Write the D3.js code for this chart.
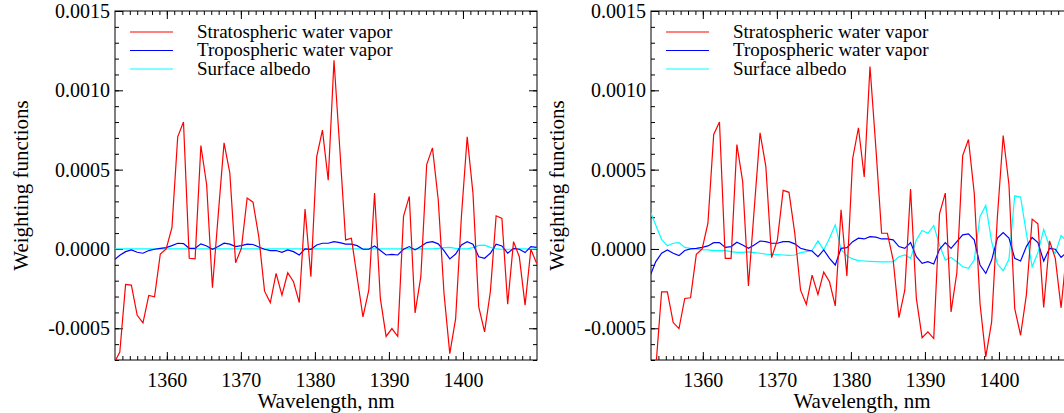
<!DOCTYPE html>
<html>
<head>
<meta charset="utf-8">
<script src="https://cdn.jsdelivr.net/npm/d3@7"></script>
<style>
  body { margin: 0; background: #fff; }
  svg { display: block; }
</style>
</head>
<body>
<div id="vis"></div>
<script>
// wavelength grid, nm
var wavelength = [1352.87, 1353.65, 1354.43, 1355.21, 1356.00, 1356.78, 1357.56, 1358.34, 1359.12, 1359.91,
  1360.69, 1361.47, 1362.25, 1363.03, 1363.82, 1364.60, 1365.38, 1366.16, 1366.94, 1367.73,
  1368.51, 1369.29, 1370.07, 1370.85, 1371.64, 1372.42, 1373.20, 1373.98, 1374.76, 1375.55,
  1376.33, 1377.11, 1377.89, 1378.67, 1379.46, 1380.24, 1381.02, 1381.80, 1382.58, 1383.37,
  1384.15, 1384.93, 1385.71, 1386.49, 1387.28, 1388.06, 1388.84, 1389.62, 1390.40, 1391.19,
  1391.97, 1392.75, 1393.53, 1394.31, 1395.10, 1395.88, 1396.66, 1397.44, 1398.22, 1399.01,
  1399.79, 1400.57, 1401.35, 1402.13, 1402.92, 1403.70, 1404.48, 1405.26, 1406.04, 1406.83,
  1407.61, 1408.39, 1409.17, 1409.95];

// left panel
var stratLeft = [-0.00072, -0.00065, -0.000224, -0.000228, -0.000418, -0.000466, -0.000293, -0.000302, -0.000032, 0.0,
  0.000135, 0.000707, 0.0008, -0.000059, -0.000063, 0.000652, 0.000405, -0.000245, 0.000213, 0.000669,
  0.000479, -0.000087, 0.000004, 0.000321, 0.000295, 0.000078, -0.000266, -0.000338, -0.000154, -0.000291,
  -0.00015, -0.000207, -0.000338, 0.000251, -0.000175, 0.00058, 0.000749, 0.000433, 0.00119, 0.000627,
  0.000057, 0.000068, -0.00018, -0.000428, -0.00026, 0.000352, -0.000312, -0.000551, -0.000502, -0.000551,
  0.000205, 0.000331, -0.000403, -0.000175, 0.000532, 0.000637, 0.00031, -0.000281, -0.00066, -0.000439,
  0.000205, 0.000707, 0.000352, -0.000365, -0.000523, -0.00027, 0.000209, 0.000192, -0.000348, 0.000046,
  -0.000049, -0.000354, -0.000002, -0.000091];
var tropLeft = [-0.00007, -0.00004, -0.000017, -0.000006, -0.000021, -0.000027, -0.00001, -0.000002, 0.000004, 0.000008,
  0.000021, 0.000036, 0.000034, 0.000004, 0.000004, 0.000032, 0.000019, -0.000002, 0.000015, 0.000036,
  0.00003, 0.000015, 0.000021, 0.00003, 0.000028, 0.000012, -0.000002, -0.00001, -0.00001, -0.000021,
  -0.000006, -0.000017, -0.000038, 0.0, -0.000002, 0.000025, 0.000036, 0.000036, 0.000046, 0.00004,
  0.00003, 0.00003, 0.000021, -0.000002, -0.000002, 0.000019, -0.00001, -0.000038, -0.000034, -0.000038,
  -0.000002, 0.000015, -0.000006, 0.000015, 0.00004, 0.000046, 0.000032, -0.00001, -0.000063, -0.000032,
  0.000025, 0.000046, 0.00003, -0.000049, -0.000059, -0.000027, 0.00003, 0.000019, -0.000027, 0.000004,
  -0.000002, -0.000023, 0.000015, 0.00001];
var albedoLeft = [0, 0, 0, 0, 0, 0, 0, 0, 0, 0,
  0, 0, 0, 0, 0, 0, 0, 0, 0, 0,
  0, 0, 0, 0, 0, 0, 0, 0, 0, 0,
  0, 0, 0, 0, 0, 0, 0, 0, 0, 0,
  0, 0, 0, 0, 0, 0, 0, 0, 0, 0,
  0, 0, 0, 0, 0, 0, 0.000004, 0.000008, 0.00001, 0.000004,
  0, 0, 0.000008, 0.000022, 0.000024, 0.00001, 0, -0.000002, -0.000002, -0.000002,
  0, 0, -0.000002, 0];

// right panel
var stratRight = [-0.0009, -0.00075, -0.00027, -0.00027, -0.000464, -0.000502, -0.000312, -0.000308, -0.000034, 0.0,
  0.000162, 0.000722, 0.0008, -0.000059, -0.000059, 0.000658, 0.000426, -0.000234, 0.00025, 0.000732,
  0.000521, -0.000055, 0.000057, 0.000369, 0.000357, 0.000099, -0.00026, -0.00035, -0.000165, -0.000287,
  -0.000146, -0.000207, -0.000359, 0.000247, -0.000171, 0.00057, 0.000764, 0.000454, 0.00115, 0.00064,
  0.000099, 0.000099, -0.00007, -0.000433, -0.00026, 0.000378, -0.000312, -0.000559, -0.000523, -0.000565,
  0.000222, 0.000352, -0.000397, -0.00015, 0.000589, 0.00069, 0.000352, -0.000344, -0.00068, -0.00046,
  0.000205, 0.000715, 0.000405, -0.000376, -0.000544, -0.000291, 0.000188, 0.000158, -0.000369, 0.000051,
  -0.000059, -0.000371, 0.0, -0.0001];
var tropRight = [-0.00017, -0.00008, -0.000027, -0.000006, -0.000027, -0.000042, -0.00001, 0.0, 0.000004, 0.00001,
  0.000019, 0.00004, 0.00004, 0.00001, 0.000015, 0.000042, 0.000025, 0.000004, 0.000025, 0.00005,
  0.000046, 0.000036, 0.000036, 0.000046, 0.000046, 0.000032, 0.000004, -0.000006, -0.000013, -0.000049,
  -0.000006, -0.000059, -0.000101, 0.000004, 0.000008, 0.000046, 0.000068, 0.000063, 0.000078, 0.000074,
  0.000063, 0.000063, 0.000057, 0.000015, 0.000004, 0.00004, -0.000049, -0.000091, -0.00008, -0.000095,
  -0.000002, 0.00004, 0.000004, 0.000046, 0.000089, 0.000095, 0.000057, -0.000101, -0.000154, -0.00007,
  0.000068, 0.000103, 0.000068, -0.000059, -0.000076, 0.000015, 0.000072, 0.00004, -0.000076, 0.000004,
  -0.000002, -0.000053, -0.00002, -0.00003];
var albedoRight = [0.00024, 0.00015, 0.00006, 0.00002, 0.000036, 0.00004, 0.00001, 0.000004, 0.0, -0.000004,
  -0.000006, -0.00001, -0.00001, -0.00001, -0.000017, -0.000021, -0.000021, -0.000019, -0.000023, -0.000027,
  -0.000032, -0.000034, -0.000036, -0.000038, -0.00004, -0.000038, -0.000023, -0.000017, -0.00001, 0.000051,
  -0.000006, 0.000068, 0.000152, -0.000002, -0.000044, -0.000063, -0.000074, -0.000076, -0.000078, -0.00008,
  -0.000082, -0.000082, -0.00008, -0.000049, -0.000038, -0.000059, 0.000057, 0.000116, 0.000099, 0.000148,
  0.000025, -0.00007, -0.000053, -0.00008, -0.000112, -0.000122, -0.00007, 0.000205, 0.000274, 0.000046,
  -0.000095, -0.000137, -0.000065, 0.000335, 0.000327, 0.000099, -0.000112, -0.000023, 0.000124, 0.000015,
  -0.000027, 0.000084, 0.00005, -0.00002];

var seriesNames = ["Stratospheric water vapor", "Tropospheric water vapor", "Surface albedo"];
var seriesColors = ["#ff0000", "#0000ff", "#00ffff"];
var xTicks = [1360, 1370, 1380, 1390, 1400];
var yTicks = [-0.0005, 0.0, 0.0005, 0.0010, 0.0015];

var W = 1064, H = 413;
var pw = 422, ph = 349, padTop = 11;
var FONT = "'Liberation Serif', 'Times New Roman', serif";

var svg = d3.select("#vis").append("svg")
  .attr("width", W).attr("height", H)
  .attr("font-family", FONT);

var x = d3.scaleLinear().domain([1353, 1410]).range([0, pw]);
var y = d3.scaleLinear().domain([-0.0007, 0.0015]).range([ph, 0]);

var fmt = function(d) { return d3.format(".4f")(d).replace("\u2212", "-"); };

function drawPanel(left, id, strat, trop, alb) {
  var g = svg.append("g").attr("transform", "translate(" + left + "," + padTop + ")");

  g.append("clipPath").attr("id", "clip" + id)
    .append("rect").attr("width", pw).attr("height", ph);

  var minorX = d3.range(1354, 1410, 1);
  var minorY = d3.range(-7, 16, 1).map(function(v) { return v * 0.0001; });

  // minor ticks
  g.append("g").attr("class", "ax").attr("transform", "translate(0," + ph + ")")
    .call(d3.axisBottom(x).tickValues(minorX).tickSize(-4).tickSizeOuter(0).tickFormat(""));
  g.append("g").attr("class", "ax")
    .call(d3.axisTop(x).tickValues(minorX).tickSize(-4).tickSizeOuter(0).tickFormat(""));
  g.append("g").attr("class", "ax")
    .call(d3.axisLeft(y).tickValues(minorY).tickSize(-4).tickSizeOuter(0).tickFormat(""));
  g.append("g").attr("class", "ax").attr("transform", "translate(" + pw + ",0)")
    .call(d3.axisRight(y).tickValues(minorY).tickSize(-4).tickSizeOuter(0).tickFormat(""));

  // major ticks
  g.append("g").attr("class", "ax lab").attr("transform", "translate(0," + ph + ")")
    .call(d3.axisBottom(x).tickValues(xTicks).tickSize(-8).tickSizeOuter(0).tickPadding(13).tickFormat(d3.format("d")));
  g.append("g").attr("class", "ax")
    .call(d3.axisTop(x).tickValues(xTicks).tickSize(-8).tickSizeOuter(0).tickFormat(""));
  g.append("g").attr("class", "ax lab")
    .call(d3.axisLeft(y).tickValues(yTicks).tickSize(-8).tickSizeOuter(0).tickPadding(5).tickFormat(fmt));
  g.append("g").attr("class", "ax").attr("transform", "translate(" + pw + ",0)")
    .call(d3.axisRight(y).tickValues(yTicks).tickSize(-8).tickSizeOuter(0).tickFormat(""));

  g.selectAll(".ax").attr("font-family", FONT).attr("font-size", 20);
  g.selectAll(".ax .domain").remove();
  g.selectAll(".ax line").attr("stroke", "#000").attr("stroke-width", 1);
  g.selectAll(".lab text").attr("fill", "#000");

  g.append("rect").attr("width", pw).attr("height", ph)
    .attr("fill", "none").attr("stroke", "#000").attr("stroke-width", 1);

  var line = d3.line()
    .x(function(d, i) { return x(wavelength[i]); })
    .y(function(d) { return y(d); });

  var data = [strat, trop, alb];
  // albedo underneath, stratospheric on top
  [2, 1, 0].forEach(function(s) {
    g.append("path").datum(data[s])
      .attr("clip-path", "url(#clip" + id + ")")
      .attr("fill", "none")
      .attr("stroke", seriesColors[s])
      .attr("stroke-width", 1.2)
      .attr("d", line);
  });

  // legend
  seriesNames.forEach(function(name, i) {
    var ly = 21 + i * 18.5;
    g.append("line").attr("x1", 15).attr("x2", 58).attr("y1", ly).attr("y2", ly)
      .attr("stroke", seriesColors[i]).attr("stroke-width", 1.2);
    g.append("text").attr("x", 82).attr("y", ly + 5.5)
      .attr("font-family", FONT).attr("font-size", 19).attr("fill", "#000")
      .text(name);
  });

  // axis titles
  g.append("text").attr("x", pw / 2).attr("y", 408 - padTop)
    .attr("text-anchor", "middle")
    .attr("font-family", FONT).attr("font-size", 21).attr("fill", "#000")
    .text("Wavelength, nm");
  g.append("text")
    .attr("transform", "translate(-87," + (ph / 2) + ") rotate(-90)")
    .attr("text-anchor", "middle")
    .attr("font-family", FONT).attr("font-size", 21).attr("fill", "#000")
    .text("Weighting functions");
}

drawPanel(115, "L", stratLeft, tropLeft, albedoLeft);
drawPanel(651, "R", stratRight, tropRight, albedoRight);
</script>
</body>
</html>
